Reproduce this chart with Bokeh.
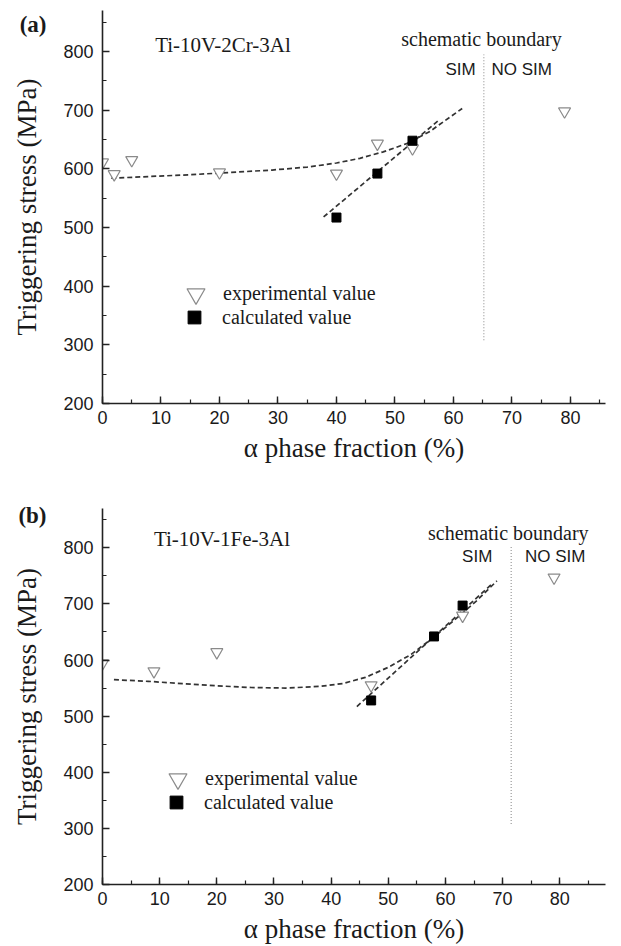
from bokeh.plotting import figure
from bokeh.layouts import column
from bokeh.models import (Range1d, SingleIntervalTicker, FixedTicker, LinearAxis, Label,
                          Legend, LegendItem)
from bokeh.embed import file_html
from bokeh.resources import INLINE

# ---------------- data: panel (a) Ti-10V-2Cr-3Al ----------------
a_exp_x = [0, 2, 5, 20, 40, 47, 53, 79]
a_exp_y = [611, 591, 615, 594, 592, 643, 635, 698]
a_calc_x = [40, 47, 53]
a_calc_y = [517, 592, 648]
a_fit_exp_x = [1.5, 8, 15, 22, 29, 35, 40, 44, 48, 52, 56, 61.5]
a_fit_exp_y = [584, 587, 590, 594, 598, 603, 610, 618, 629, 643, 664, 703]
a_fit_calc_x = [37.8, 57.5]
a_fit_calc_y = [518, 683]
a_boundary_x = [65.2, 65.2]
a_boundary_y = [308, 795]

# ---------------- data: panel (b) Ti-10V-1Fe-3Al ----------------
b_exp_x = [0, 9, 20, 47, 63, 79]
b_exp_y = [594, 580, 614, 555, 679, 747]
b_calc_x = [47, 58, 63]
b_calc_y = [528, 642, 697]
b_fit_exp_x = [2, 8, 14, 20, 26, 32, 38, 42, 46, 50, 54, 58, 62, 65.5, 69]
b_fit_exp_y = [565, 562, 558, 554, 551, 550, 553, 558, 569, 587, 610, 641, 675, 706, 741]
b_fit_calc_x = [44.5, 68.3]
b_fit_calc_y = [517, 737]
b_boundary_x = [71.5, 71.5]
b_boundary_y = [308, 803]

x_label = "\u03b1 phase fraction (%)"
y_label = "Triggering stress (MPa)"
legend_labels = ["experimental value", "calculated value"]

SERIF = "Liberation Serif"
SANS = "Liberation Sans"


def make_panel(tag, alloy, exp_x, exp_y, calc_x, calc_y, fe_x, fe_y, fc_x, fc_y,
               bx, by, xmax, height, mt, mb, mr, tag_y, alloy_pos, sb_pos,
               sim_pos, nosim_pos, leg1, leg2):
    p = figure(width=621, height=height, x_range=Range1d(0, xmax), y_range=Range1d(200, 870),
               output_backend="svg", toolbar_location=None,
               min_border_left=102, min_border_right=mr, min_border_top=mt, min_border_bottom=mb)
    p.grid.visible = False
    p.outline_line_color = None
    p.background_fill_color = "white"

    p.xaxis.ticker = SingleIntervalTicker(interval=10, num_minor_ticks=2)
    p.yaxis.ticker = SingleIntervalTicker(interval=100, num_minor_ticks=2)
    for ax in (p.xaxis[0], p.yaxis[0]):
        ax.axis_line_color = "#222222"
        ax.axis_line_width = 1.6
        ax.major_tick_line_color = "#222222"
        ax.minor_tick_line_color = "#222222"
        ax.major_tick_line_width = 1.4
        ax.minor_tick_line_width = 1.2
        ax.major_tick_in = 7
        ax.major_tick_out = 0
        ax.minor_tick_in = 4
        ax.minor_tick_out = 0
        ax.major_label_text_font = SANS
        ax.major_label_text_font_size = "18px"
        ax.major_label_text_color = "#1a1a1a"
        ax.axis_label_text_font = SERIF
        ax.axis_label_text_font_style = "normal"
        ax.axis_label_text_font_size = "27px"
        ax.axis_label_text_color = "#1a1a1a"
    p.xaxis.axis_label = x_label
    p.yaxis.axis_label = y_label
    p.xaxis.major_label_standoff = 7
    p.yaxis.major_label_standoff = 9
    p.xaxis.axis_label_standoff = 6
    p.yaxis.axis_label_standoff = 18

    # panel tag "(a)"/"(b)" drawn as the single label of an invisible outer left axis
    tag_axis = LinearAxis(ticker=FixedTicker(ticks=[tag_y]), major_label_overrides={tag_y: tag},
                          axis_line_color=None, major_tick_line_color=None,
                          minor_tick_line_color=None, major_tick_in=0, major_tick_out=0,
                          minor_tick_in=0, minor_tick_out=0, major_label_standoff=-37,
                          major_label_text_font=SERIF, major_label_text_font_style="bold",
                          major_label_text_font_size="23px", major_label_text_color="#1a1a1a",
                          major_label_text_align="right")
    p.add_layout(tag_axis, "left")

    # boundary
    p.line(bx, by, line_color="#9a9a9a", line_width=1.2, line_dash="1 2")
    # fits
    p.line(fe_x, fe_y, line_color="#333333", line_width=1.7, line_dash="5 3")
    p.line(fc_x, fc_y, line_color="#333333", line_width=1.7, line_dash="5 3")
    # markers
    r_exp = p.scatter(exp_x, exp_y, marker="inverted_triangle", size=12,
                      line_color="#8a8a8a", fill_color="white", line_width=1.2)
    r_calc = p.scatter(calc_x, calc_y, marker="square", size=9,
                       line_color="black", fill_color="black")

    # texts
    p.add_layout(Label(x=alloy_pos[0], y=alloy_pos[1], text=alloy, text_baseline="middle",
                       text_align="left", text_font=SERIF, text_font_size="21px",
                       text_color="#1a1a1a"))
    p.add_layout(Label(x=sb_pos[0], y=sb_pos[1], text="schematic boundary",
                       text_baseline="middle", text_align="center", text_font=SERIF,
                       text_font_size="20px", text_color="#1a1a1a"))
    p.add_layout(Label(x=sim_pos[0], y=sim_pos[1], text="SIM", text_baseline="middle",
                       text_align="right", text_font=SANS, text_font_size="17px",
                       text_color="#1a1a1a"))
    p.add_layout(Label(x=nosim_pos[0], y=nosim_pos[1], text="NO SIM", text_baseline="middle",
                       text_align="left", text_font=SANS, text_font_size="17px",
                       text_color="#1a1a1a"))

    # legends (one per item to get large legend glyphs)
    for (loc, box, standoff), rend, lab in ((leg1, r_exp, legend_labels[0]),
                                            (leg2, r_calc, legend_labels[1])):
        lg = Legend(items=[LegendItem(label=lab, renderers=[rend])], location=loc,
                    glyph_width=box, glyph_height=box, label_height=box,
                    label_standoff=standoff, padding=0, margin=0, spacing=0,
                    border_line_color=None, background_fill_alpha=0,
                    label_text_font=SERIF, label_text_font_size="20px",
                    label_text_color="#1a1a1a")
        p.add_layout(lg)
    return p


pa = make_panel("(a)", "Ti-10V-2Cr-3Al", a_exp_x, a_exp_y, a_calc_x, a_calc_y,
                a_fit_exp_x, a_fit_exp_y, a_fit_calc_x, a_fit_calc_y,
                a_boundary_x, a_boundary_y, xmax=86, height=470, mt=10, mb=67, mr=1,
                tag_y=846, alloy_pos=(9, 811),
                sb_pos=(64.8, 821), sim_pos=(63.8, 770), nosim_pos=(66.5, 770),
                leg1=((71, 87), 45, 5), leg2=((76, 70), 32, 12))

pb = make_panel("(b)", "Ti-10V-1Fe-3Al", b_exp_x, b_exp_y, b_calc_x, b_calc_y,
                b_fit_exp_x, b_fit_exp_y, b_fit_calc_x, b_fit_calc_y,
                b_boundary_x, b_boundary_y, xmax=88, height=476, mt=38, mb=62, mr=16,
                tag_y=857, alloy_pos=(9, 815),
                sb_pos=(71, 826), sim_pos=(68.2, 784), nosim_pos=(73.9, 784),
                leg1=((53, 83), 45, 5), leg2=((58, 66), 32, 12))

layout = column(pa, pb, spacing=0)
open("out.html", "w").write(file_html(layout, INLINE))
